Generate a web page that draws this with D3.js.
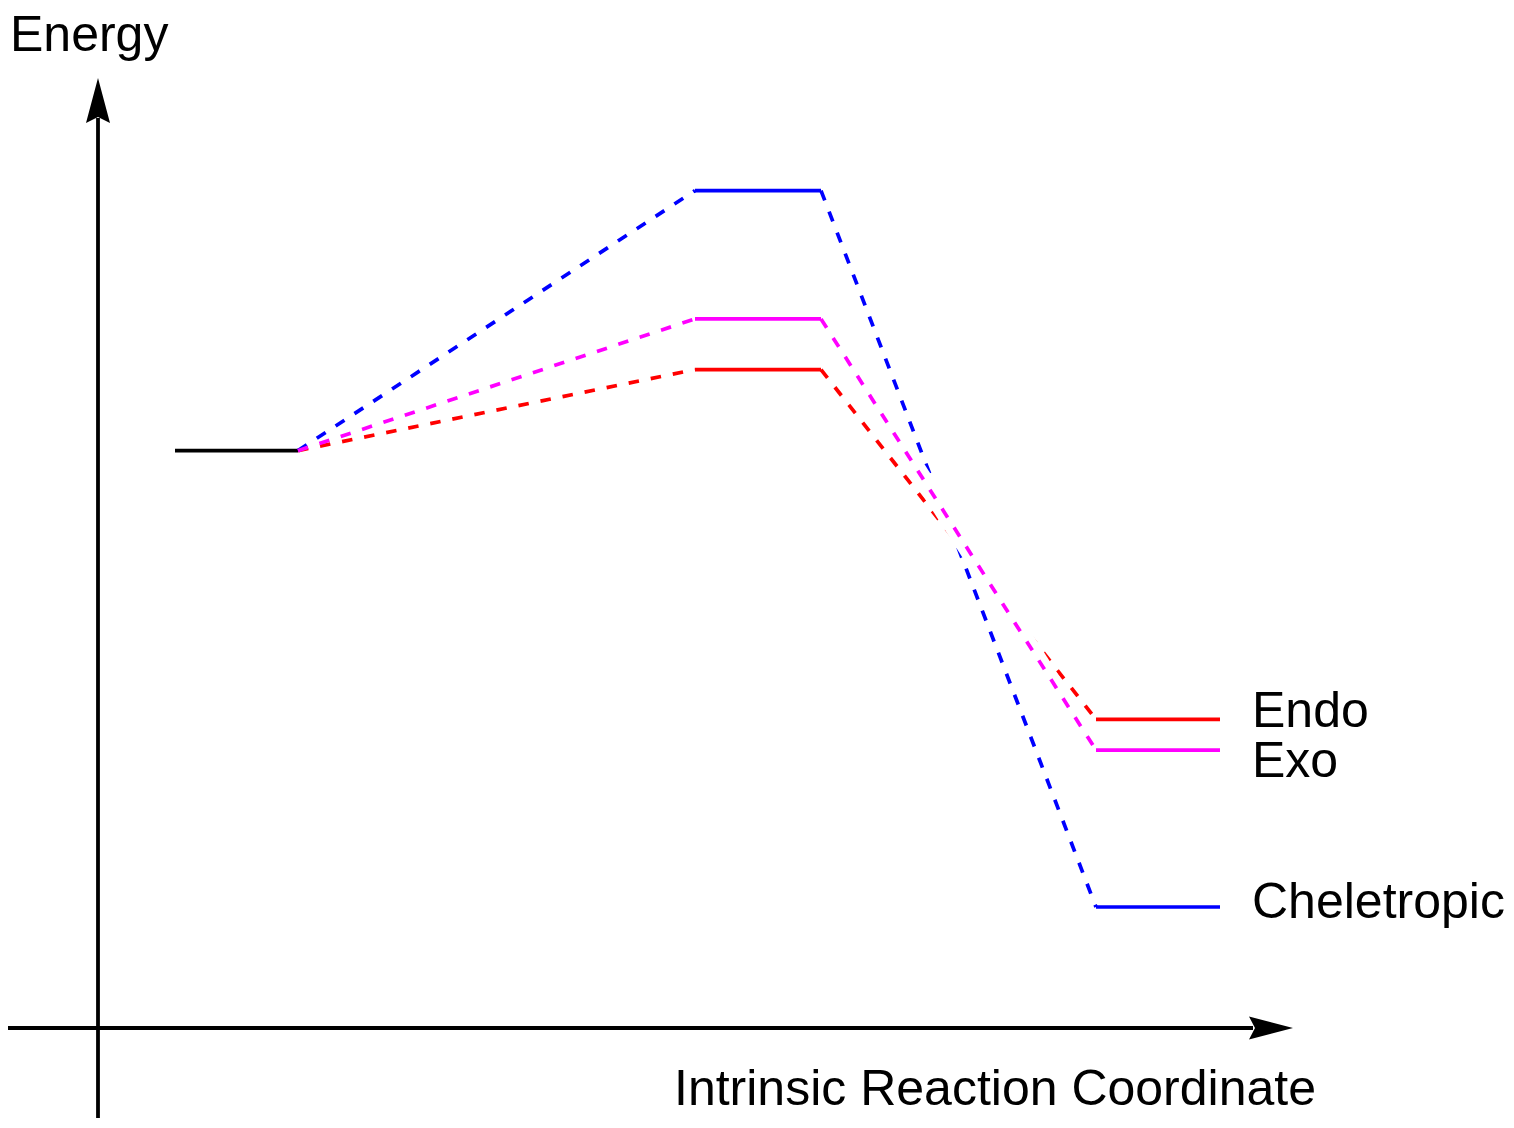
<!DOCTYPE html>
<html>
<head>
<meta charset="utf-8">
<script src="https://cdn.jsdelivr.net/npm/d3@7/dist/d3.min.js"></script>
<style>
  html, body { margin: 0; padding: 0; background: #fff; }
  svg { display: block; }
  text { font-family: "Liberation Sans", Arial, sans-serif; fill: #000; }
</style>
</head>
<body>
<svg id="chart" width="1514" height="1128"></svg>
<script>
// ---- data ----
const stages = ["Reactant", "Transition state", "Product"];
// extent of each energy level along the reaction coordinate (arbitrary units)
const levelStart = [0.77, 5.97, 9.98];
const levelEnd   = [2.00, 7.23, 11.22];
const reactantEnergy = 0;
const seriesNames  = ["Endo", "Exo", "Cheletropic"];
const seriesColors = ["#ff0000", "#ff00ff", "#0000ff"];
const tsEnergy      = [30.9, 50.2, 99.1];
const productEnergy = [-102.4, -114.1, -173.9];
const xTitle = "Intrinsic Reaction Coordinate";
const yTitle = "Energy";

// ---- scales ----
const svg = d3.select("#chart");
const x = d3.scaleLinear().domain([0, 11.95]).range([98, 1293]);
const y = d3.scaleLinear().domain([-220, 142]).range([1028, 78]);

const axisColor = "#000";
const lw = 3.7;

// axes (lines with arrowheads)
svg.append("line")
  .attr("x1", x(0)).attr("x2", x(0))
  .attr("y1", 1118).attr("y2", y(142) + 40)
  .attr("stroke", axisColor).attr("stroke-width", 3.8);
svg.append("line")
  .attr("x1", 8).attr("x2", x(11.95) - 40)
  .attr("y1", y(-220)).attr("y2", y(-220))
  .attr("stroke", axisColor).attr("stroke-width", 3.8);

// arrowheads
const yt = [x(0), y(142)];
svg.append("path")
  .attr("d", `M${yt[0]},${yt[1]} L${yt[0] + 12},${yt[1] + 45} L${yt[0]},${yt[1] + 39} L${yt[0] - 12},${yt[1] + 45} Z`)
  .attr("fill", axisColor);
const xt = [x(11.95), y(-220)];
svg.append("path")
  .attr("d", `M${xt[0]},${xt[1]} L${xt[0] - 44},${xt[1] - 11.5} L${xt[0] - 38},${xt[1]} L${xt[0] - 44},${xt[1] + 11.5} Z`)
  .attr("fill", axisColor);

// axis titles
const fs = 50;
svg.append("text").attr("x", 10).attr("y", 51)
  .attr("font-size", fs).text(yTitle);
svg.append("text").attr("x", 674).attr("y", 1105)
  .attr("font-size", fs).text(xTitle);

// reactant level
svg.append("line")
  .attr("x1", x(levelStart[0])).attr("x2", x(levelEnd[0]))
  .attr("y1", y(reactantEnergy)).attr("y2", y(reactantEnergy))
  .attr("stroke", "#000").attr("stroke-width", lw);

const dash = "10.5,12";
function drawSeries(i, halo) {
  const c = seriesColors[i];
  const g = svg.append("g");
  // rising dashed connector
  g.append("line")
    .attr("x1", x(levelEnd[0])).attr("y1", y(reactantEnergy))
    .attr("x2", x(levelStart[1])).attr("y2", y(tsEnergy[i]))
    .attr("stroke", c).attr("stroke-width", lw).attr("stroke-dasharray", dash);
  // TS level
  g.append("line")
    .attr("x1", x(levelStart[1])).attr("x2", x(levelEnd[1]))
    .attr("y1", y(tsEnergy[i])).attr("y2", y(tsEnergy[i]))
    .attr("stroke", c).attr("stroke-width", lw);
  // falling dashed connector
  if (halo) {
    g.append("line")
      .attr("x1", x(levelEnd[1]) + 8).attr("y1", y(tsEnergy[i]) + 12)
      .attr("x2", x(levelStart[2]) - 8).attr("y2", y(productEnergy[i]) - 12)
      .attr("stroke", "#fff").attr("stroke-width", 18);
  }
  g.append("line")
    .attr("x1", x(levelEnd[1])).attr("y1", y(tsEnergy[i]))
    .attr("x2", x(levelStart[2])).attr("y2", y(productEnergy[i]))
    .attr("stroke", c).attr("stroke-width", lw).attr("stroke-dasharray", dash);
  // product level
  g.append("line")
    .attr("x1", x(levelStart[2])).attr("x2", x(levelEnd[2]))
    .attr("y1", y(productEnergy[i])).attr("y2", y(productEnergy[i]))
    .attr("stroke", c).attr("stroke-width", lw);
  // label
  const labelY = [727, 777, 918][i];
  svg.append("text").attr("x", x(levelEnd[2]) + 32).attr("y", labelY)
    .attr("font-size", fs).text(seriesNames[i]);
}
drawSeries(0, false);
drawSeries(2, false);
drawSeries(1, true);
</script>
</body>
</html>
